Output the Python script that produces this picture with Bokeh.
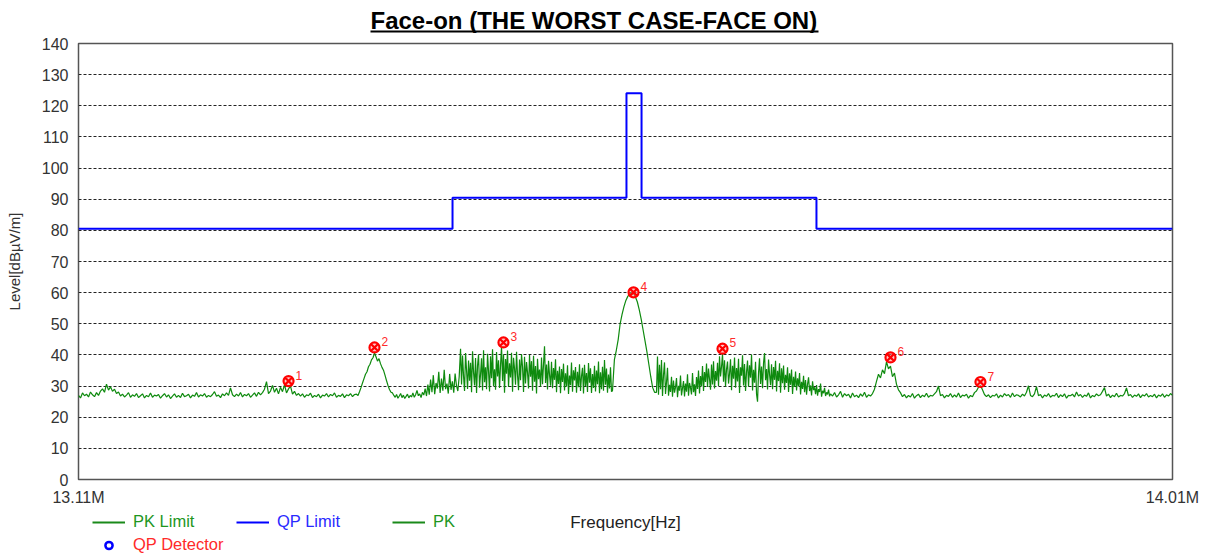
import numpy as np
from bokeh.plotting import figure
from bokeh.layouts import column
from bokeh.models import (Range1d, FixedTicker, PrintfTickFormatter, Legend, LegendItem,
                          BoxAnnotation, Label)
from bokeh.core.properties import value
from bokeh.embed import file_html
from bokeh.resources import INLINE

TITLE = "Face-on (THE WORST CASE-FACE ON)"
X_LABEL = "Frequency[Hz]"
Y_LABEL = "Level[dBµV/m]"
x_start, x_end = 13.11, 14.01
y_ticks = list(range(0, 141, 10))

# QP limit (step, value holds until next edge)
qp_edges = [13.11, 13.4177, 13.5608, 13.5732, 13.7171, 14.01]
qp_levels = [80.5, 90.5, 124.0, 90.5, 80.5, 80.5]

# PK trace, read piecewise from the picture (dBuV/m)
pk_seg_edges = [13.1100, 13.3387, 13.3683, 13.4243, 13.5493, 13.5855, 13.7287, 13.7862, 14.0100]
pk_s1 = [27.0, 26.2, 27.8, 26.9, 27.4, 26.5, 28.1, 27.2, 26.6, 27.9, 27.0, 28.4,
         29.1, 28.0, 30.6, 28.7, 29.8, 28.3, 29.0, 27.6,
         28.1, 26.8, 27.4, 26.5, 27.1, 27.9, 26.4, 27.2, 26.7, 27.6, 26.3, 26.9, 27.5, 26.2, 27.0, 26.6, 27.8, 26.4, 27.1, 26.8,
         27.3, 26.1, 26.9, 27.6, 26.5, 27.2, 26.0, 26.8, 27.5, 26.4, 27.0, 26.3, 27.7, 26.6, 26.9, 27.4, 26.2, 27.1, 26.7, 27.9,
         26.5, 27.2, 26.8, 27.6, 26.4, 27.0, 26.6, 27.3, 28.2, 26.7, 27.1, 26.3, 27.5, 26.9, 27.8, 27.0,
         29.4, 27.2, 26.6, 27.4, 26.8, 27.9, 26.5, 27.3, 26.9, 27.6, 26.4, 27.1, 27.8, 26.7, 28.0, 27.2,
         27.9, 29.0, 31.4, 27.6, 28.4, 30.2, 28.0, 29.3, 27.5, 29.6, 28.2, 30.4, 27.8, 29.1, 30.0, 27.4, 28.3, 27.0, 27.6,
         26.8, 27.5, 26.4, 27.2, 26.9, 27.7, 26.3, 27.0, 26.6, 27.4, 26.2, 27.1, 26.8, 27.6, 26.5, 27.3, 26.9, 27.8, 26.4, 27.0,
         26.7, 27.5, 26.3, 27.2, 26.9, 27.6, 26.6, 27.3]
pk_s2 = [27.4, 27.0, 28.2, 29.5, 31.0, 32.4, 33.8, 34.6, 36.2, 37.0, 38.4, 39.1, 40.6, 39.4, 38.0, 38.8,
         37.2, 36.0, 35.1, 33.5, 31.8, 30.2, 28.9, 28.0]
pk_s3 = [27.8, 27.0, 26.4, 27.3, 26.1, 26.8, 27.6, 26.3, 27.1, 26.0, 26.7, 27.4, 26.2, 27.0, 26.5, 27.8,
         26.4, 27.2, 28.6, 26.9, 27.5, 26.3, 28.0, 27.1, 29.2, 26.8,
         30.5, 27.2, 32.1, 28.0, 33.5, 27.4, 31.0, 29.2, 34.6, 27.8, 32.4, 28.5, 35.2, 29.0, 30.8, 27.6,
         33.9, 28.8, 31.5, 27.9, 34.0, 30.2, 28.4, 33.0]
pk_s4 = [42.0, 30.5, 39.8, 33.2, 28.4, 40.6, 35.0, 29.1, 38.2, 31.7,
         37.5, 28.0, 41.2, 34.4, 30.2, 39.0, 27.8, 36.6, 40.1, 29.5,
         33.8, 38.9, 28.6, 41.5, 31.2, 36.0, 29.0, 40.4, 34.7, 28.3,
         39.6, 32.5, 41.8, 30.0, 35.4, 28.8, 40.9, 33.1, 38.3, 29.4,
         36.8, 42.7, 31.6, 40.2, 27.9, 38.7, 34.0, 41.4, 29.7, 37.3,
         32.8, 40.7, 28.2, 39.1, 35.6, 30.4, 41.0, 33.5, 28.7, 38.5,
         31.9, 40.3, 36.2, 28.1, 39.4, 30.8, 37.7, 34.3, 29.2, 40.0,
         33.0, 38.0, 28.5, 39.7, 31.4, 36.4, 27.6, 38.8, 32.2, 35.3,
         29.8, 39.2, 30.6, 37.0, 42.8, 31.0, 36.9, 28.9, 38.1, 33.6,
         30.1, 37.8, 29.3, 35.8, 32.0, 38.6, 28.0, 34.9, 30.7, 36.3,
         27.7, 35.5, 31.3, 37.2, 28.6, 34.1, 29.9, 36.7, 27.5, 33.4,
         30.3, 37.6, 28.2, 35.1, 31.8, 36.1, 27.9, 34.6, 29.6, 37.0,
         28.4, 33.2, 35.9, 27.6, 36.8, 30.0, 34.2, 28.1, 37.4, 31.1,
         35.7, 27.8, 33.9, 29.4, 36.5, 28.3, 35.0, 30.6, 37.9, 27.7,
         34.4, 29.0, 36.2, 28.5, 38.4, 30.4, 35.6, 27.9, 33.7, 29.2, 36.0, 28.2]
pk_s5 = [28.5, 38.5, 41.5, 45.0, 50.0, 53.0, 55.5, 57.5, 58.8, 59.6, 60.0, 59.7, 58.6, 57.0, 54.5,
         51.5, 48.0, 44.5, 41.0, 37.0, 33.0, 29.5, 28.0]
pk_s6 = [28.0, 39.5, 27.2, 36.8, 29.0, 38.4, 26.8, 33.5, 37.6, 27.5,
         31.2, 35.9, 26.9, 30.4, 28.1, 33.0, 26.6, 31.8, 27.9, 29.6,
         32.6, 26.4, 30.1, 28.5, 33.4, 27.0, 29.3, 31.6, 26.7, 30.8,
         28.2, 33.8, 26.9, 31.0, 29.4, 27.3, 34.2, 28.0, 30.6, 26.8,
         32.9, 29.1, 35.0, 27.6, 33.2, 30.0, 36.4, 28.4, 34.5, 31.3,
         37.2, 29.7, 35.6, 32.2, 28.8, 36.9, 30.5, 38.0, 29.2, 34.8,
         31.7, 37.5, 30.0, 39.6, 33.1, 36.2, 40.4, 31.4, 38.3, 29.9,
         35.4, 37.9, 30.8, 34.0, 38.6, 28.7, 36.5, 32.4, 39.2, 29.5,
         35.8, 31.5, 38.8, 27.8, 36.0, 33.3, 39.9, 30.2, 37.1, 28.4,
         34.6, 38.2, 29.8, 36.7, 32.7, 40.1, 28.6, 35.2, 31.1, 37.8,
         27.4, 25.0, 34.3, 38.9, 30.7, 36.3, 29.3, 37.4, 40.6, 31.9,
         35.5, 28.9, 38.5, 33.7, 30.3, 37.0, 29.0, 36.1, 32.0, 38.1,
         28.3, 34.9, 31.6, 37.3, 27.9, 35.7, 30.9, 36.6, 28.8, 33.6,
         31.0, 36.0, 28.1, 34.1, 30.4, 35.3, 27.5, 33.0, 29.7, 34.7,
         28.6, 32.5, 30.0, 34.2, 27.3, 31.4, 29.1, 33.3, 28.0, 31.9,
         27.2, 30.6, 32.8, 28.4, 30.2, 27.0, 31.5, 28.7, 29.6, 27.4,
         30.3, 26.9, 29.0, 28.1, 30.8, 26.6, 28.5, 27.7, 29.4, 26.8, 28.0, 27.3, 28.9, 26.7]
pk_s7 = [27.5, 26.8, 27.9, 26.5, 27.2, 28.3, 26.4, 27.6, 26.9, 27.4, 26.2, 27.8, 26.6, 27.1, 26.3,
         27.5, 26.7, 28.0, 26.4, 27.2, 26.8, 27.6,
         29.0, 31.5, 33.8, 32.6, 35.2, 34.0, 37.8, 35.5, 36.4, 33.0, 34.2, 30.6, 28.8]
pk_s8 = [27.9, 26.6, 27.3, 26.2, 27.0, 26.5, 27.6, 26.1, 26.9, 27.4,
         26.3, 27.1, 26.6, 27.7, 26.4, 27.0, 26.8, 27.5, 28.2, 30.0,
         26.9, 27.3, 26.2, 27.0, 26.7, 27.6, 26.4, 27.2, 26.5, 27.8,
         26.3, 27.1, 26.8, 27.4, 26.1, 27.0, 26.6, 27.9, 28.4, 29.6,
         30.2, 28.8, 27.3, 26.6, 27.2, 26.3, 27.0, 26.8, 27.5, 26.2,
         27.1, 26.5, 27.6, 26.9, 27.3, 26.4, 27.8, 26.6, 27.2, 27.0,
         26.5, 27.4, 26.8, 28.0, 30.1, 27.0, 26.6, 27.5, 29.8, 26.9,
         27.3, 26.2, 27.1, 26.7, 27.6, 26.4, 27.0, 26.8, 27.7, 26.3,
         27.2, 26.6, 27.5, 26.1, 27.0, 26.9, 27.4, 26.5, 28.1, 26.8,
         27.3, 26.4, 27.1, 26.7, 27.8, 26.2, 27.0, 26.6, 27.5, 26.9,
         27.2, 28.3, 29.5, 26.8, 27.4, 26.3, 27.1, 26.6, 27.7, 26.5,
         27.0, 26.8, 27.6, 29.4, 26.9, 27.3, 26.4, 27.1, 26.7, 27.5,
         26.3, 27.2, 26.8, 27.6, 26.5, 27.0, 26.6, 27.4, 26.2, 27.1,
         26.7, 27.5, 26.4, 27.2, 26.8, 27.6, 27.0]
pk_segments = [pk_s1, pk_s2, pk_s3, pk_s4, pk_s5, pk_s6, pk_s7, pk_s8]

# Peak markers
mk_freq = [13.2828, 13.3535, 13.4596, 13.5666, 13.6398, 13.7780, 13.8520]
mk_level = [31.6, 42.4, 44.0, 60.1, 42.0, 39.2, 31.3]
mk_label = ["1", "2", "3", "4", "5", "6", "7"]

# legend entries: label, text colour
legend_labels = ["PK Limit", "QP Limit", "PK", "QP Detector"]
legend_text_colors = ["#1e961e", "#2a2aff", "#1e961e", "#ff2a2a"]

FONT = "Liberation Sans"
W = 1209
FL, FR = 78, 1172           # frame left / right in page pixels (shared by all strips)
PK_COLOR = "#0e8a0e"
QP_COLOR = "#0000ff"

pk_freq, pk_level = [], []
for k, seg in enumerate(pk_segments):
    last = k == len(pk_segments) - 1
    pk_freq.extend(np.linspace(pk_seg_edges[k], pk_seg_edges[k + 1], len(seg), endpoint=last).tolist())
    pk_level.extend(seg)


def strip(height):
    f = figure(width=W, height=height, output_backend="svg", toolbar_location=None,
               x_axis_type=None, y_axis_type=None,
               x_range=Range1d(FL, FR), y_range=Range1d(0, height),
               min_border_left=FL, min_border_right=W - FR, min_border_top=0, min_border_bottom=0)
    f.outline_line_color = None
    f.grid.visible = False
    f.background_fill_alpha = 0
    f.border_fill_alpha = 0
    return f


# ---------- title strip (page y 0..33) ----------
T_H = 33
t = strip(T_H)
t.add_layout(Label(x=370, y=13, text=TITLE, text_font=FONT, text_font_size="24px",
                   text_font_style="bold", text_color="#000000",
                   text_align="left", text_baseline="alphabetic"))
t.add_layout(BoxAnnotation(left=370, right=818, bottom=1, top=3,
                           fill_color="black", fill_alpha=1.0, line_color=None))

# ---------- main chart (page y 33..508) ----------
p = figure(width=W, height=475, output_backend="svg", toolbar_location=None,
           x_range=Range1d(x_start, x_end), y_range=Range1d(0, 140),
           min_border_left=FL, min_border_right=W - FR, min_border_top=10, min_border_bottom=29)

p.outline_line_color = "#555555"
p.outline_line_width = 1.5
p.background_fill_color = "white"

p.xgrid.visible = False
p.ygrid.ticker = FixedTicker(ticks=list(range(10, 140, 10)))
p.ygrid.grid_line_color = "#222222"
p.ygrid.grid_line_dash = "3 2"
p.ygrid.grid_line_width = 1

for ax in (p.xaxis[0], p.yaxis[0]):
    ax.axis_line_color = None
    ax.major_tick_line_color = None
    ax.minor_tick_line_color = None
    ax.major_label_text_font = FONT
    ax.major_label_text_font_size = "16px"
    ax.major_label_text_color = "#333333"
    ax.axis_label_text_font = FONT
    ax.axis_label_text_font_style = "normal"

p.yaxis.ticker = FixedTicker(ticks=y_ticks)
p.yaxis.major_label_standoff = 4
p.yaxis.axis_label = Y_LABEL
p.yaxis.axis_label_text_font_size = "15px"
p.yaxis.axis_label_text_color = "#333333"
p.yaxis.axis_label_standoff = 16

p.xaxis.ticker = FixedTicker(ticks=[x_start, x_end])
p.xaxis.formatter = PrintfTickFormatter(format="%.2fM")
p.xaxis.major_label_standoff = 3

p.step(x=qp_edges, y=qp_levels, mode="after", line_color=QP_COLOR, line_width=2)
p.line(x=pk_freq, y=pk_level, line_color=PK_COLOR, line_width=1.2)
p.scatter(x=mk_freq, y=mk_level, marker="circle_x", size=10, line_color="#ff0000",
          line_width=2.2, fill_color="#ff9090", fill_alpha=0.5)
p.text(x=mk_freq, y=mk_level, text=mk_label, x_offset=7, y_offset=-6,
       text_font=value(FONT), text_font_size="12px", text_color="#ff2a2a",
       text_align="left", text_baseline="middle")

# ---------- legend strip with axis title (page y 508..554) ----------
B_H = 46
b = strip(B_H)
# legend swatches: one off-screen anchor point each (never visible in this strip)
swatch_x, swatch_y = [0.0], [-10.0]
r_pklim = b.line(x=swatch_x, y=swatch_y, line_color="#1a8a1a", line_width=2)
r_qplim = b.line(x=swatch_x, y=swatch_y, line_color=QP_COLOR, line_width=2)
r_pk = b.line(x=swatch_x, y=swatch_y, line_color="#1a8a1a", line_width=2)
r_qpdet = b.scatter(x=swatch_x, y=swatch_y, marker="circle", size=8, line_color=QP_COLOR,
                    line_width=2.5, fill_color=None)
legend_renderers = [r_pklim, r_qplim, r_pk, r_qpdet]
legend_locs = [(92 - FL, 23), (236 - FL, 23), (392 - FL, 23), (92 - FL, 0)]

for lab, col, rend, loc in zip(legend_labels, legend_text_colors, legend_renderers, legend_locs):
    lg = Legend(items=[LegendItem(label=lab, renderers=[rend])], location=loc,
                orientation="horizontal", glyph_width=33, glyph_height=18, label_height=18,
                label_standoff=8, padding=0, margin=0, spacing=0,
                border_line_color=None, background_fill_alpha=0,
                label_text_font=FONT, label_text_font_size="16.5px",
                label_text_color=col)
    b.add_layout(lg, "center")

b.add_layout(Label(x=625, y=32, text=X_LABEL, text_font=FONT, text_font_size="17px",
                   text_color="#222222", text_align="center", text_baseline="middle"))

layout = column(t, p, b, spacing=0)
open("out.html", "w").write(file_html(layout, INLINE))
